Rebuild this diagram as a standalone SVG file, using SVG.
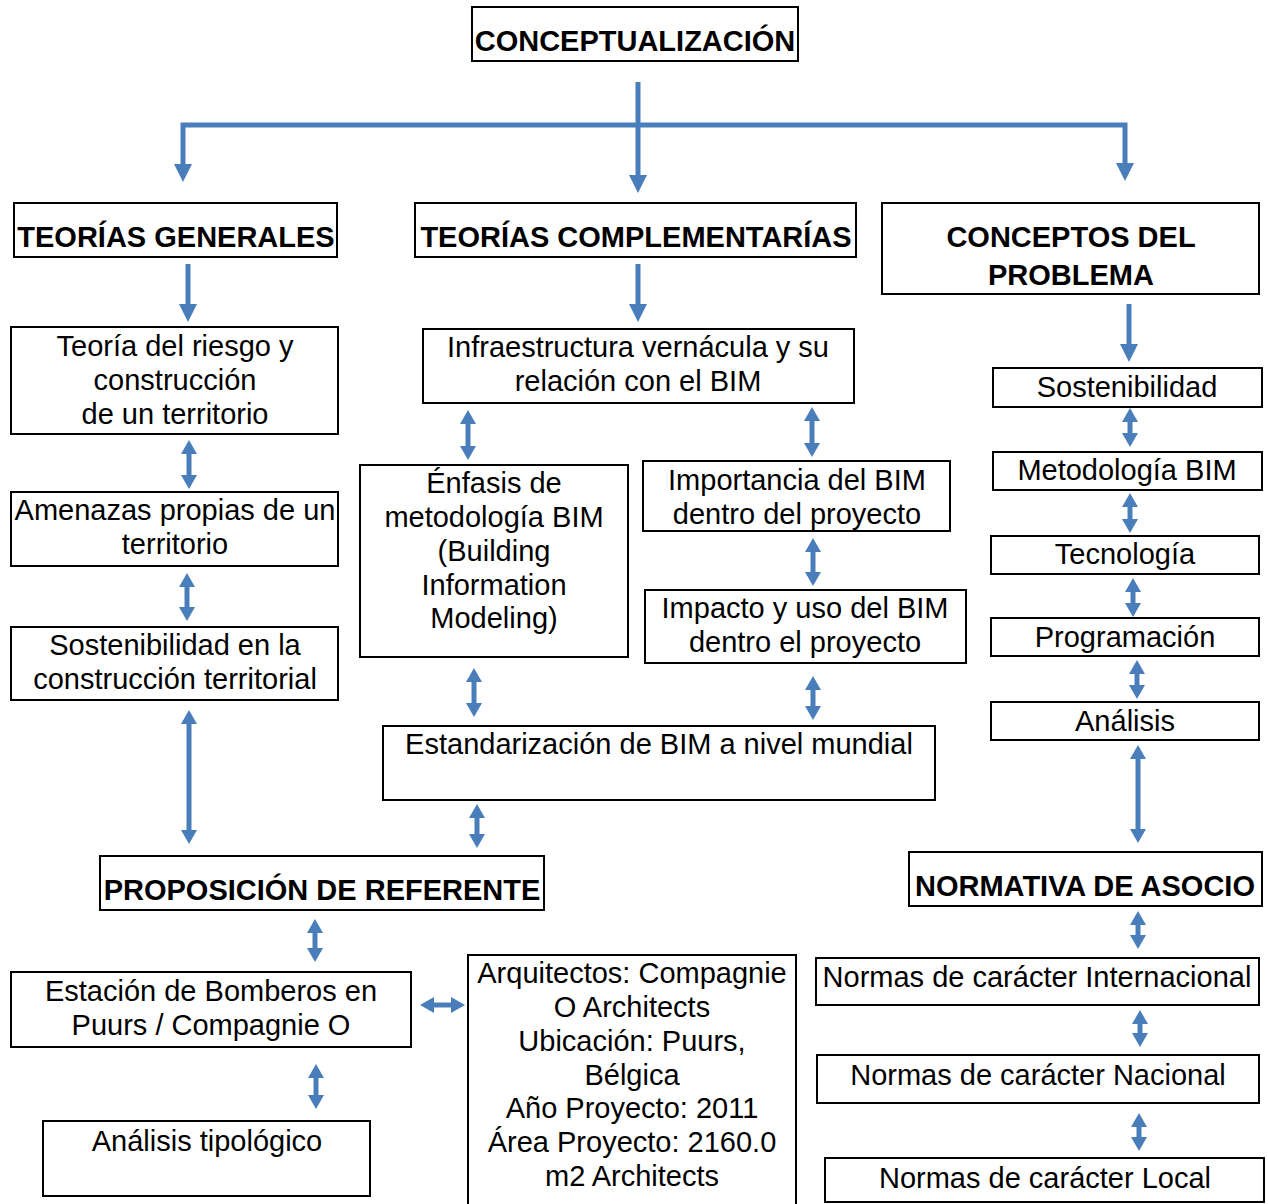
<svg xmlns="http://www.w3.org/2000/svg" width="1268" height="1204" viewBox="0 0 1268 1204">
<style>
.b{fill:#fff;stroke:#000;stroke-width:2}
.t{font-family:"Liberation Sans",Arial,sans-serif;font-size:29px;fill:#000;text-anchor:middle}
.h{font-weight:bold}
.c{fill:none;stroke:#4A7EBB;stroke-width:5}
.d{fill:none;stroke:#4A7EBB;stroke-width:5;marker-start:url(#dh);marker-end:url(#dh)}
</style>
<defs>
<marker id="ah" markerUnits="userSpaceOnUse" viewBox="0 0 18 18" markerWidth="18" markerHeight="18" refX="0" refY="9" orient="auto-start-reverse"><path d="M0,0 L18,9 L0,18z" fill="#4A7EBB"/></marker>
<marker id="dh" markerUnits="userSpaceOnUse" viewBox="0 0 14 16" markerWidth="14" markerHeight="16" refX="0" refY="8" orient="auto-start-reverse"><path d="M0,0 L14,8 L0,16z" fill="#4A7EBB"/></marker>
</defs>
<rect width="1268" height="1204" fill="#fff"/>
<g id="connectors">
<line class="c" x1="638" y1="82" x2="638" y2="175" marker-end="url(#ah)"/>
<path class="c" d="M183,164 V125 H1125 V163" marker-start="url(#ah)" marker-end="url(#ah)"/>
<line class="c" x1="188" y1="264" x2="188" y2="304" marker-end="url(#ah)"/>
<line class="c" x1="638" y1="264" x2="638" y2="304" marker-end="url(#ah)"/>
<line class="c" x1="1129" y1="304" x2="1129" y2="344" marker-end="url(#ah)"/>
<line class="d" x1="189" y1="454" x2="189" y2="475"/>
<line class="d" x1="187" y1="587" x2="187" y2="607"/>
<line class="d" x1="189" y1="724" x2="189" y2="830"/>
<line class="d" x1="468" y1="424" x2="468" y2="446"/>
<line class="d" x1="812" y1="421" x2="812" y2="443"/>
<line class="d" x1="813" y1="552" x2="813" y2="572"/>
<line class="d" x1="474" y1="682" x2="474" y2="703"/>
<line class="d" x1="813" y1="690" x2="813" y2="706"/>
<line class="d" x1="477" y1="818" x2="477" y2="834"/>
<line class="d" x1="1130" y1="422" x2="1130" y2="433"/>
<line class="d" x1="1130" y1="507" x2="1130" y2="519"/>
<line class="d" x1="1133" y1="592" x2="1133" y2="603"/>
<line class="d" x1="1137" y1="674" x2="1137" y2="685"/>
<line class="d" x1="1138" y1="759" x2="1138" y2="829"/>
<line class="d" x1="315" y1="933" x2="315" y2="948"/>
<line class="d" x1="316" y1="1078" x2="316" y2="1095"/>
<line class="d" x1="434" y1="1005" x2="451" y2="1005"/>
<line class="d" x1="1138" y1="925" x2="1138" y2="935"/>
<line class="d" x1="1140" y1="1024" x2="1140" y2="1033"/>
<line class="d" x1="1139" y1="1127" x2="1139" y2="1137"/>
</g>
<g id="n-conceptualizacion"><rect class="b" x="472" y="7" width="326" height="54"/><text class="t h" x="635" y="51">CONCEPTUALIZACIÓN</text></g>
<g id="n-teorias-generales"><rect class="b" x="14" y="203" width="323" height="54"/><text class="t h" x="176" y="247">TEORÍAS GENERALES</text></g>
<g id="n-teorias-complementarias"><rect class="b" x="415" y="203" width="441" height="54"/><text class="t h" x="636" y="247">TEORÍAS COMPLEMENTARÍAS</text></g>
<g id="n-conceptos"><rect class="b" x="882" y="203" width="377" height="91"/><text class="t h" x="1071" y="247">CONCEPTOS DEL</text><text class="t h" x="1071" y="285">PROBLEMA</text></g>
<g id="n-teoria-riesgo"><rect class="b" x="11" y="327" width="327" height="107"/><text class="t" x="175" y="356">Teoría del riesgo y</text><text class="t" x="175" y="390">construcción</text><text class="t" x="175" y="424">de un territorio</text></g>
<g id="n-amenazas"><rect class="b" x="11" y="492" width="327" height="74"/><text class="t" x="175" y="520">Amenazas propias de un</text><text class="t" x="175" y="554">territorio</text></g>
<g id="n-sost-territorial"><rect class="b" x="11" y="627" width="327" height="73"/><text class="t" x="175" y="655">Sostenibilidad en la</text><text class="t" x="175" y="689">construcción territorial</text></g>
<g id="n-infraestructura"><rect class="b" x="423" y="329" width="431" height="74"/><text class="t" x="638" y="357">Infraestructura vernácula y su</text><text class="t" x="638" y="391">relación con el BIM</text></g>
<g id="n-enfasis"><rect class="b" x="360" y="465" width="268" height="192"/><text class="t" x="494" y="493">Énfasis de</text><text class="t" x="494" y="527">metodología BIM</text><text class="t" x="494" y="561">(Building</text><text class="t" x="494" y="595">Information</text><text class="t" x="494" y="628">Modeling)</text></g>
<g id="n-importancia"><rect class="b" x="643" y="461" width="307" height="70"/><text class="t" x="797" y="490">Importancia del BIM</text><text class="t" x="797" y="524">dentro del proyecto</text></g>
<g id="n-impacto"><rect class="b" x="645" y="590" width="321" height="73"/><text class="t" x="805" y="618">Impacto y uso del BIM</text><text class="t" x="805" y="652">dentro el proyecto</text></g>
<g id="n-estandarizacion"><rect class="b" x="383" y="726" width="552" height="74"/><text class="t" x="659" y="754">Estandarización de BIM a nivel mundial</text></g>
<g id="n-sostenibilidad"><rect class="b" x="993" y="368" width="269" height="39"/><text class="t" x="1127" y="397">Sostenibilidad</text></g>
<g id="n-metodologia"><rect class="b" x="993" y="452" width="269" height="38"/><text class="t" x="1127" y="480">Metodología BIM</text></g>
<g id="n-tecnologia"><rect class="b" x="991" y="536" width="268" height="38"/><text class="t" x="1125" y="564">Tecnología</text></g>
<g id="n-programacion"><rect class="b" x="991" y="618" width="268" height="38"/><text class="t" x="1125" y="647">Programación</text></g>
<g id="n-analisis"><rect class="b" x="991" y="702" width="268" height="38"/><text class="t" x="1125" y="731">Análisis</text></g>
<g id="n-proposicion"><rect class="b" x="100" y="856" width="444" height="54"/><text class="t h" x="322" y="900">PROPOSICIÓN DE REFERENTE</text></g>
<g id="n-normativa"><rect class="b" x="909" y="852" width="353" height="54"/><text class="t h" x="1085" y="896">NORMATIVA DE ASOCIO</text></g>
<g id="n-estacion"><rect class="b" x="11" y="972" width="400" height="75"/><text class="t" x="211" y="1001">Estación de Bomberos en</text><text class="t" x="211" y="1035">Puurs / Compagnie O</text></g>
<g id="n-analisis-tipologico"><rect class="b" x="43" y="1121" width="327" height="75"/><text class="t" x="207" y="1151">Análisis tipológico</text></g>
<g id="n-arquitectos"><rect class="b" x="468" y="955" width="328" height="260"/><text class="t" x="632" y="983">Arquitectos: Compagnie</text><text class="t" x="632" y="1017">O Architects</text><text class="t" x="632" y="1051">Ubicación: Puurs,</text><text class="t" x="632" y="1085">Bélgica</text><text class="t" x="632" y="1118">Año Proyecto: 2011</text><text class="t" x="632" y="1152">Área Proyecto: 2160.0</text><text class="t" x="632" y="1186">m2 Architects</text></g>
<g id="n-internacional"><rect class="b" x="816" y="958" width="443" height="47"/><text class="t" x="1037" y="987">Normas de carácter Internacional</text></g>
<g id="n-nacional"><rect class="b" x="817" y="1055" width="442" height="48"/><text class="t" x="1038" y="1085">Normas de carácter Nacional</text></g>
<g id="n-local"><rect class="b" x="825" y="1158" width="439" height="44"/><text class="t" x="1045" y="1188">Normas de carácter Local</text></g>
</svg>
